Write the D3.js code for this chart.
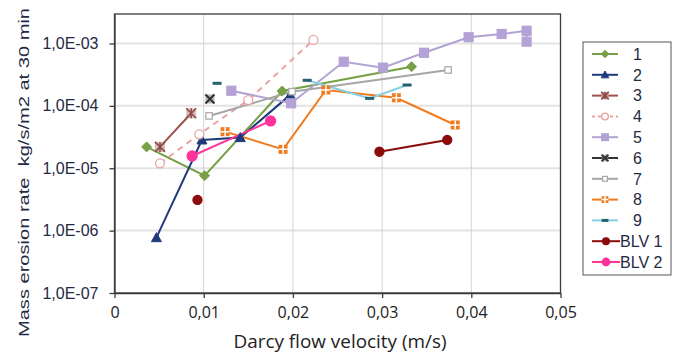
<!DOCTYPE html>
<html><head><meta charset="utf-8">
<script src="https://cdn.jsdelivr.net/npm/d3@7"></script>
<style>
body{margin:0;background:#fff;}
svg{display:block;}
</style></head>
<body>
<svg id="c" width="680" height="354"></svg>
<script>
// ---- data ----
const seriesNames = ["1","2","3","4","5","6","7","8","9","BLV 1","BLV 2"];
const xTicks = [0,0.01,0.02,0.03,0.04,0.05];
const xTickLabels = ["0","0,01","0,02","0,03","0,04","0,05"];
const yTicks = [1e-7,1e-6,1e-5,1e-4,1e-3];
const yTickLabels = ["1,0E-07","1,0E-06","1,0E-05","1,0E-04","1,0E-03"];

const s1x = [0.0036,0.0101,0.0188,0.0333];
const s1y = [2.2e-5,7.6e-6,1.73e-4,4.25e-4];
const s2x = [0.0047,0.0098,0.0141,0.0197];
const s2y = [7.7e-7,2.84e-5,3.1e-5,1.5e-4];
const s3x = [0.0051,0.0086];
const s3y = [2.2e-5,7.6e-5];
const s4x = [0.0051,0.0095,0.0150,0.0223];
const s4y = [1.2e-5,3.5e-5,1.24e-4,1.14e-3];
const s5x = [0.0131,0.0198,0.0257,0.0301,0.0347,0.0397,0.0434,0.0462,0.0462];
const s5y = [1.75e-4,1.1e-4,5.1e-4,4.1e-4,7.1e-4,1.26e-3,1.42e-3,1.6e-3,1.07e-3];
const s6x = [0.0107];
const s6y = [1.29e-4];
const s7x = [0.0106,0.0199,0.0374];
const s7y = [6.9e-5,1.69e-4,3.76e-4];
const s8x = [0.0124,0.0189,0.0237,0.0316,0.0382];
const s8y = [3.86e-5,2.01e-5,1.8e-4,1.35e-4,4.94e-5];
const s9x = [0.0115,null,0.0216,0.0286,0.0328];
const s9y = [2.3e-4,null,2.57e-4,1.32e-4,2.16e-4];
const blv1x = [0.0093,null,0.0297,0.0373];
const blv1y = [3.1e-6,null,1.84e-5,2.84e-5];
const blv2x = [0.0087,0.0175];
const blv2y = [1.57e-5,5.73e-5];

const seriesX = [s1x,s2x,s3x,s4x,s5x,s6x,s7x,s8x,s9x,blv1x,blv2x];
const seriesY = [s1y,s2y,s3y,s4y,s5y,s6y,s7y,s8y,s9y,blv1y,blv2y];

// ---- styles ----
const styles = [
  {line:"#77a047", dash:null, marker:"diamond", fill:"#77a047", stroke:"#77a047", size:5},
  {line:"#1f3a7a", dash:null, marker:"triangle", fill:"#1f3a7a", stroke:"#1f3a7a", size:5},
  {line:"#a0504a", dash:null, marker:"star", fill:"#c9a0a0", stroke:"#8b4a48", size:5},
  {line:"#e9a3a3", dash:"6,5", marker:"circle", fill:"#fff", stroke:"#e9a3a3", size:4.5},
  {line:"#b3a2d5", dash:null, marker:"square", fill:"#b3a2d5", stroke:"#b3a2d5", size:4.5},
  {line:"#333", dash:null, marker:"x", fill:"#888", stroke:"#333", size:4.5},
  {line:"#a6a6a6", dash:null, marker:"square", fill:"#fff", stroke:"#a6a6a6", size:3.2},
  {line:"#f07b1e", dash:null, marker:"plus", fill:"#f07b1e", stroke:"#f07b1e", size:4.5},
  {line:"#86cfe2", dash:null, marker:"dash", fill:"#24606e", stroke:"#24606e", size:4.5},
  {line:"#8b0a0a", dash:null, marker:"circle", fill:"#8b0a0a", stroke:"#8b0a0a", size:4.5},
  {line:"#ff3399", dash:null, marker:"circle", fill:"#ff3399", stroke:"#ff3399", size:5}
];

const svg = d3.select("#c");
const L = 114.5, R = 560.5, T = 14, B = 293;
const x = d3.scaleLinear().domain([0,0.05]).range([L,R]);
const yTop = Math.pow(10, -3 + (43.5-T)/62.4);
const y = d3.scaleLog().domain([1e-7, yTop]).range([B,T]);

// gridlines
const g = svg.append("g");
g.selectAll("line.h").data(yTicks.slice(1)).join("line")
  .attr("x1",L).attr("x2",R).attr("y1",d=>y(d)).attr("y2",d=>y(d))
  .attr("stroke","#e3e3e3").attr("stroke-width",2);
g.selectAll("line.v").data(xTicks.slice(1,-1)).join("line")
  .attr("x1",d=>x(d)).attr("x2",d=>x(d)).attr("y1",T).attr("y2",B)
  .attr("stroke","#d4d4d4").attr("stroke-width",1);

// frame
svg.append("rect").attr("x",L).attr("y",T).attr("width",R-L).attr("height",B-T)
  .attr("fill","none").attr("stroke","#3a3a3a").attr("stroke-width",1.3);

// axes
const xAxis = d3.axisBottom(x).tickValues(xTicks).tickFormat((d,i)=>xTickLabels[i]).tickSize(5).tickSizeOuter(0);
const gx = svg.append("g").attr("transform",`translate(0,${B})`).call(xAxis);
gx.select(".domain").attr("stroke","#3a3a3a").attr("stroke-width",1.3);
gx.selectAll(".tick line").attr("stroke","#3a3a3a").attr("stroke-width",1.3);
gx.selectAll("text").attr("font-family","'Open Sans', sans-serif").attr("font-size","16px")
  .attr("fill","#222").attr("y",25.3).attr("dy",0);

const yAxis = d3.axisLeft(y).tickValues(yTicks).tickFormat((d,i)=>yTickLabels[i]).tickSize(5).tickSizeOuter(0);
const gy = svg.append("g").attr("transform",`translate(${L},0)`).call(yAxis);
gy.select(".domain").attr("stroke","#3a3a3a").attr("stroke-width",1.3);
gy.selectAll(".tick line").attr("stroke","#3a3a3a").attr("stroke-width",1.3);
gy.selectAll("text").attr("font-family","'Liberation Sans', Arial, sans-serif").attr("font-size","16px")
  .attr("fill","#1f2a44").attr("x",-16);

// axis titles
svg.append("text").attr("x",233.5).attr("y",347.5)
  .attr("font-family","'Open Sans', sans-serif").attr("font-size","19px").attr("fill","#222")
  .attr("textLength",213).attr("lengthAdjust","spacingAndGlyphs")
  .text("Darcy flow velocity (m/s)");
svg.append("text").attr("transform",`translate(29,${(8+337)/2}) rotate(-90)`).attr("text-anchor","middle")
  .attr("font-family","'Liberation Sans', Arial, sans-serif").attr("font-size","15px").attr("fill","#1f2a44")
  .attr("textLength",329).attr("lengthAdjust","spacingAndGlyphs")
  .style("white-space","pre")
  .text("Mass erosion rate  kg/s/m2 at 30 min");

// marker drawing
function drawMarker(sel, st, cx, cy, scale){
  const s = st.size*(scale||1);
  const m = sel.append("g").attr("transform",`translate(${cx},${cy})`);
  switch(st.marker){
    case "diamond":
      m.append("path").attr("d",`M0,${-s}L${s},0L0,${s}L${-s},0Z`).attr("fill",st.fill).attr("stroke",st.stroke); break;
    case "triangle":
      m.append("path").attr("d",`M0,${-s}L${s},${s*0.8}L${-s},${s*0.8}Z`).attr("fill",st.fill).attr("stroke",st.stroke); break;
    case "circle":
      m.append("circle").attr("r",s).attr("fill",st.fill).attr("stroke",st.stroke).attr("stroke-width",1.3); break;
    case "square":
      m.append("rect").attr("x",-s).attr("y",-s).attr("width",2*s).attr("height",2*s)
        .attr("fill",st.fill).attr("stroke",st.stroke).attr("stroke-width",1.2); break;
    case "star":
      m.append("rect").attr("x",-s).attr("y",-s).attr("width",2*s).attr("height",2*s).attr("fill",st.fill).attr("opacity",0.7);
      m.append("path").attr("d",`M${-s},${-s}L${s},${s}M${s},${-s}L${-s},${s}M0,${-s}L0,${s}`).attr("stroke",st.stroke).attr("stroke-width",1.5); break;
    case "x":
      m.append("rect").attr("x",-s).attr("y",-s).attr("width",2*s).attr("height",2*s).attr("fill",st.fill).attr("opacity",0.6);
      m.append("path").attr("d",`M${-s},${-s}L${s},${s}M${s},${-s}L${-s},${s}`).attr("stroke",st.stroke).attr("stroke-width",2); break;
    case "plus":
      m.append("rect").attr("x",-s).attr("y",-s).attr("width",2*s).attr("height",2*s).attr("fill",st.fill);
      m.append("path").attr("d",`M${-s},0L${s},0M0,${-s}L0,${s}`).attr("stroke","#fff").attr("stroke-width",1.5); break;
    case "dash":
      m.append("rect").attr("x",-s).attr("y",-1.5).attr("width",2*s).attr("height",3).attr("fill",st.fill); break;
  }
}

// series
const plot = svg.append("g");
seriesNames.forEach((name,i)=>{
  const st = styles[i];
  const pts = seriesX[i].map((v,j)=>[v, seriesY[i][j]]);
  const line = d3.line().defined(d=>d[0]!==null && d[1]!==null).x(d=>x(d[0])).y(d=>y(d[1]));
  plot.append("path").attr("d",line(pts)).attr("fill","none").attr("stroke",st.line)
    .attr("stroke-width",2).attr("stroke-dasharray",st.dash);
});
seriesNames.forEach((name,i)=>{
  const st = styles[i];
  seriesX[i].forEach((v,j)=>{
    if(v===null) return;
    drawMarker(plot, st, x(v), y(seriesY[i][j]));
  });
});

// legend
const lg = svg.append("g");
lg.append("rect").attr("x",583).attr("y",42).attr("width",88).attr("height",233)
  .attr("fill","#fff").attr("stroke","#555").attr("stroke-width",1);
seriesNames.forEach((name,i)=>{
  const st = styles[i];
  const ly = 54 + i*20.8;
  const long = name.length>2;
  const x1 = 592, x2 = long?620:618;
  lg.append("line").attr("x1",x1).attr("x2",x2).attr("y1",ly).attr("y2",ly)
    .attr("stroke",st.line).attr("stroke-width",2).attr("stroke-dasharray",st.dash?"3,3":null);
  drawMarker(lg, st, (x1+x2)/2, ly, 0.75);
  lg.append("text").attr("x",long?620:633).attr("y",ly).attr("dy","0.36em")
    .attr("font-family","'Liberation Sans', Arial, sans-serif").attr("font-size","16px").attr("fill","#1f2a44")
    .text(name);
});
</script>
</body></html>
